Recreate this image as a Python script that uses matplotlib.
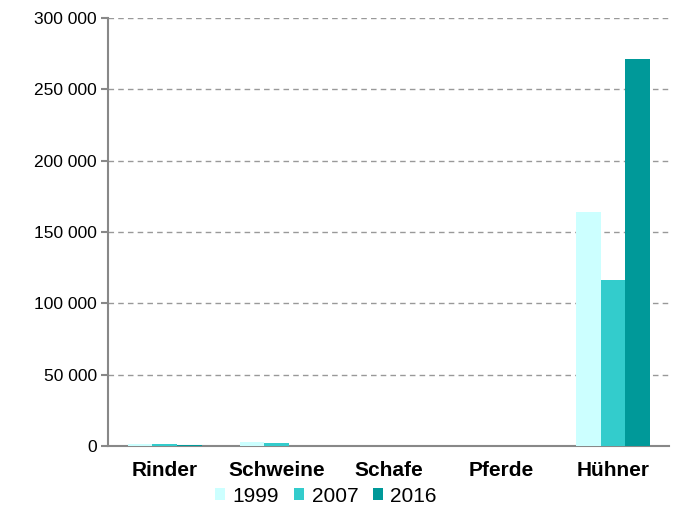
import matplotlib
matplotlib.use("Agg")
import matplotlib.pyplot as plt
import numpy as np

categories = ["Rinder", "Schweine", "Schafe", "Pferde", "Hühner"]
years = ["1999", "2007", "2016"]
v1999 = [1400, 2800, 300, 100, 164200]
v2007 = [1300, 2300, 200, 80, 116400]
v2016 = [700, 150, 150, 80, 271300]
yticks = [0, 50000, 100000, 150000, 200000, 250000, 300000]
colors = ["#ccffff", "#33cccc", "#009999"]

plt.rcParams['font.family'] = ['Liberation Sans', 'DejaVu Sans']

fig = plt.figure(figsize=(6.76, 5.08), dpi=100)
ax = fig.add_axes([108.5/676, 1-446/508, 560.5/676, 428/508])

x = np.arange(len(categories))
w = 0.22
for i, (vals, c, lab) in enumerate(zip([v1999, v2007, v2016], colors, years)):
    ax.bar(x + (i-1)*w, vals, width=w, color=c, label=lab, zorder=3)

ax.set_xlim(-0.5, 4.5)
ax.set_ylim(0, 300000)
ax.set_yticks(yticks)
ax.set_yticklabels([f"{v:,}".replace(",", " ") for v in yticks], fontsize=12.5)
ax.set_xticks(x)
ax.set_xticklabels(categories, fontsize=15, fontweight='bold')
ax.tick_params(axis='x', length=0, pad=11)
ax.tick_params(axis='y', length=5.2, width=1.5, color='#888888', direction='out', pad=3)
ax.yaxis.grid(True, linestyle=(0, (4, 3)), color='#999999', linewidth=1, zorder=0)
for s in ['top', 'right']:
    ax.spines[s].set_visible(False)
for s in ['left', 'bottom']:
    ax.spines[s].set_color('#888888')
    ax.spines[s].set_linewidth(1.5)

ax.legend(loc='center', bbox_to_anchor=(326/676, 1-496/508), bbox_transform=fig.transFigure,
          ncol=3, frameon=False, fontsize=15, handlelength=0.5, handleheight=0.5,
          handletextpad=0.35, columnspacing=0.7, borderaxespad=0, borderpad=0)

fig.savefig("out.png", dpi=100)
